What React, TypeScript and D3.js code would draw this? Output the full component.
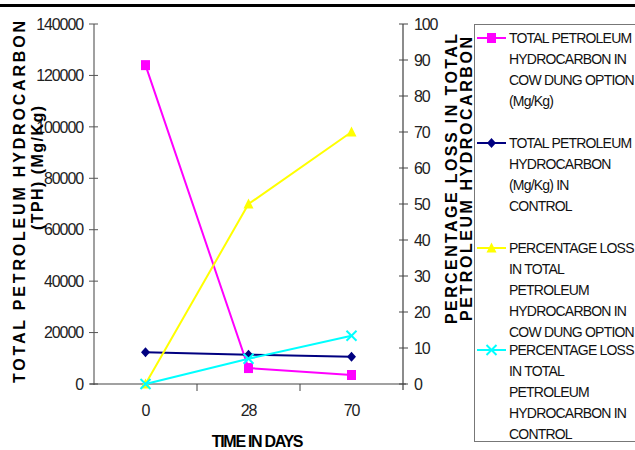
import React from "react";
import * as d3 from "d3";

const days = ["0", "28", "70"];
const tphCowDung = [124000, 6200, 3500];
const tphControl = [12300, 11400, 10600];
const lossCowDung = [0, 50, 70];
const lossControl = [0, 7, 13.4];
const leftTicks = [0, 20000, 40000, 60000, 80000, 100000, 120000, 140000];
const rightTicks = [0, 10, 20, 30, 40, 50, 60, 70, 80, 90, 100];

const legendItems = [
  { lines: ["TOTAL PETROLEUM", "HYDROCARBON IN", "COW DUNG OPTION", "(Mg/Kg)"], color: "#ff00ff", marker: "square" },
  { lines: ["TOTAL PETROLEUM", "HYDROCARBON", "(Mg/Kg) IN", "CONTROL"], color: "#000080", marker: "diamond" },
  { lines: ["PERCENTAGE LOSS", "IN TOTAL", "PETROLEUM", "HYDROCARBON IN", "COW DUNG OPTION"], color: "#ffff00", marker: "triangle" },
  { lines: ["PERCENTAGE LOSS", "IN TOTAL", "PETROLEUM", "HYDROCARBON IN", "CONTROL"], color: "#00ffff", marker: "x" },
];

const FONT = "'Liberation Sans', Arial, sans-serif";

function Marker({ type, x, y, color }: { type: string; x: number; y: number; color: string }) {
  if (type === "square") return <rect x={x - 4.5} y={y - 5} width={9} height={10} fill={color} />;
  if (type === "diamond") return <path d={`M${x},${y - 5}L${x + 4.5},${y}L${x},${y + 5}L${x - 4.5},${y}Z`} fill={color} />;
  if (type === "triangle") return <path d={`M${x},${y - 5.5}L${x + 5},${y + 4.5}L${x - 5},${y + 4.5}Z`} fill={color} />;
  return (
    <g stroke={color} strokeWidth={2}>
      <line x1={x - 5} y1={y - 5} x2={x + 5} y2={y + 5} />
      <line x1={x - 5} y1={y + 5} x2={x + 5} y2={y - 5} />
    </g>
  );
}

export default function App() {
  const x = d3.scaleBand().domain(days).range([94, 403]);
  const cx = (d: string) => (x(d) as number) + x.bandwidth() / 2;
  const yL = d3.scaleLinear().domain([0, 140000]).range([384, 24]);
  const yR = d3.scaleLinear().domain([0, 100]).range([384, 24]);

  const series = [
    { vals: tphCowDung, scale: yL, color: "#ff00ff", marker: "square" },
    { vals: tphControl, scale: yL, color: "#000080", marker: "diamond" },
    { vals: lossCowDung, scale: yR, color: "#ffff00", marker: "triangle" },
    { vals: lossControl, scale: yR, color: "#00ffff", marker: "x" },
  ];

  const legendStarts = [38, 143, 248, 350];

  return (
    <svg width={635} height={450} style={{ position: "absolute", left: 0, top: 0, background: "#fff" }} fontFamily={FONT}>
      <rect width={635} height={450} fill="#fff" />
      <line x1={0} x2={635} y1={5.5} y2={5.5} stroke="#000" strokeWidth={3} />

      {/* left axis */}
      <line x1={94} x2={94} y1={24} y2={385} stroke="#a0a0a0" strokeWidth={2} />
      {leftTicks.map((t) => (
        <g key={t}>
          <line x1={89} x2={98} y1={yL(t)} y2={yL(t)} stroke="#555" strokeWidth={1} />
          <text x={83} y={yL(t)} dy="0.36em" textAnchor="end" fontSize={16} letterSpacing={-1.1} fill="#222">
            {t}
          </text>
        </g>
      ))}

      {/* right axis */}
      <line x1={403} x2={403} y1={24} y2={390} stroke="#666" strokeWidth={1.5} />
      {rightTicks.map((t) => (
        <g key={t}>
          <line x1={399} x2={408} y1={yR(t)} y2={yR(t)} stroke="#444" strokeWidth={1} />
          <text x={414} y={yR(t)} dy="0.36em" textAnchor="start" fontSize={16} letterSpacing={-1.1} fill="#222">
            {t}
          </text>
        </g>
      ))}

      {/* x axis */}
      <line x1={90} x2={406} y1={384} y2={384} stroke="#444" strokeWidth={1.2} />
      {x.domain().slice(1).map((d) => (
        <line key={d} x1={x(d) as number} x2={x(d) as number} y1={384} y2={391} stroke="#444" strokeWidth={1} />
      ))}
      {days.map((d) => (
        <text key={d} x={cx(d)} y={416} textAnchor="middle" fontSize={16} letterSpacing={-1.1} fill="#222">
          {d}
        </text>
      ))}
      <text x={257} y={447} textAnchor="middle" fontSize={16} fontWeight="bold" letterSpacing={-1.3} fill="#000">
        TIME IN DAYS
      </text>

      {/* axis titles */}
      <text transform="translate(19,202) rotate(-90)" dy="0.36em" textAnchor="middle" fontSize={16} fontWeight="bold" textLength={362} lengthAdjust="spacing">
        TOTAL PETROLEUM HYDROCARBON
      </text>
      <text transform="translate(37,168) rotate(-90)" dy="0.36em" textAnchor="middle" fontSize={16} fontWeight="bold" textLength={124} lengthAdjust="spacing">
        (TPH) (Mg/Kg)
      </text>
      <text transform="translate(451,179) rotate(-90)" dy="0.36em" textAnchor="middle" fontSize={16} fontWeight="bold" textLength={290} lengthAdjust="spacing">
        PERCENTAGE LOSS IN TOTAL
      </text>
      <text transform="translate(466,179) rotate(-90)" dy="0.36em" textAnchor="middle" fontSize={16} fontWeight="bold" textLength={284} lengthAdjust="spacing">
        PETROLEUM HYDROCARBON
      </text>

      {/* series */}
      {series.map((s, i) => {
        const line = d3
          .line<number>()
          .x((_, j) => cx(days[j]))
          .y((v) => s.scale(v));
        return (
          <g key={i}>
            <path d={line(s.vals) as string} fill="none" stroke={s.color} strokeWidth={2} />
            {s.vals.map((v, j) => (
              <Marker key={j} type={s.marker} x={cx(days[j])} y={s.scale(v)} color={s.color} />
            ))}
          </g>
        );
      })}

      {/* legend */}
      <rect x={474.5} y={24.5} width={170} height={417} fill="none" stroke="#777" strokeWidth={1} />
      {legendItems.map((it, i) => (
        <g key={i}>
          <line x1={477} x2={506} y1={legendStarts[i]} y2={legendStarts[i]} stroke={it.color} strokeWidth={2} />
          <Marker type={it.marker} x={491.5} y={legendStarts[i]} color={it.color} />
          {it.lines.map((l, k) => (
            <text key={k} x={509} y={legendStarts[i] + k * 21} dy="0.36em" fontSize={14} letterSpacing={-0.8} fill="#111">
              {l}
            </text>
          ))}
        </g>
      ))}
    </svg>
  );
}
